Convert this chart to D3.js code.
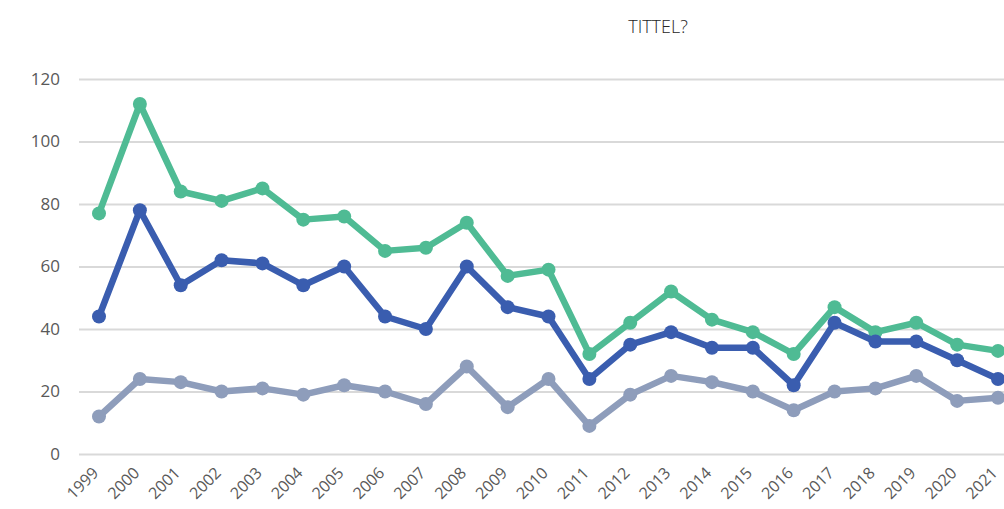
<!DOCTYPE html>
<html>
<head>
<meta charset="utf-8">
<script src="https://cdn.jsdelivr.net/npm/d3@7"></script>
<style>
  body { margin: 0; background: #fff; }
  svg { display: block; }
</style>
</head>
<body>
<div id="chart"></div>
<script>
// data
const years = ["1999","2000","2001","2002","2003","2004","2005","2006","2007","2008","2009",
               "2010","2011","2012","2013","2014","2015","2016","2017","2018","2019","2020","2021"];
const greenSeries = [77,112,84,81,85,75,76,65,66,74,57,59,32,42,52,43,39,32,47,39,42,35,33];
const blueSeries  = [44,78,54,62,61,54,60,44,40,60,47,44,24,35,39,34,34,22,42,36,36,30,24];
const greySeries  = [12,24,23,20,21,19,22,20,16,28,15,24,9,19,25,23,20,14,20,21,25,17,18];
const yTicks = [0,20,40,60,80,100,120];
const title = "TITTEL?";

const width = 1004, height = 509;
const margin = {top: 79, right: 6, bottom: 55, left: 79};

const svg = d3.select("#chart").append("svg")
    .attr("width", width)
    .attr("height", height);

// title
svg.append("text")
    .attr("x", 658)
    .attr("y", 33)
    .attr("text-anchor", "middle")
    .attr("style", "font-family: 'Open Sans'; font-size: 18px; font-weight: 300;")
    .attr("fill", "#262626")
    .text(title);

const y = d3.scaleLinear()
    .domain([0, 120])
    .range([height - margin.bottom, margin.top]);

const x = d3.scalePoint()
    .domain(years)
    .range([99, 998]);

//////////////
/// Grid   ///
//////////////

const yAxis = svg.append("g")
    .attr("transform", "translate(" + margin.left + ",0)")
    .call(d3.axisLeft(y).tickValues(yTicks).tickSize(-(width - margin.left)).tickPadding(19));
yAxis.select(".domain").remove();
yAxis.selectAll(".tick line")
    .attr("stroke", "#d9d9d9")
    .attr("stroke-width", 2);
yAxis.selectAll(".tick text")
    .attr("fill", "#595959")
    .attr("style", "font-family: 'Open Sans'; font-size: 17px;");

const xAxis = svg.append("g")
    .attr("transform", "translate(0," + y(0) + ")")
    .call(d3.axisBottom(x).tickSize(0).tickPadding(0));
xAxis.select(".domain").remove();
xAxis.selectAll(".tick text")
    .attr("fill", "#595959")
    .attr("style", "font-family: 'Open Sans'; font-size: 16px;")
    .attr("text-anchor", "end")
    .attr("dy", null)
    .attr("transform", "translate(0,20) rotate(-45)");

//////////////
/// Lines  ///
//////////////

const series = [
    {values: greySeries,  color: "#8e9dbb"},
    {values: greenSeries, color: "#4fbb94"},
    {values: blueSeries,  color: "#3a5daf"}
];

const line = d3.line()
    .x((d, i) => x(years[i]))
    .y(d => y(d));

series.forEach(s => {
    svg.append("path")
        .datum(s.values)
        .attr("fill", "none")
        .attr("stroke", s.color)
        .attr("stroke-width", 6.5)
        .attr("stroke-linejoin", "round")
        .attr("d", line);

    svg.append("g")
        .selectAll("circle")
        .data(s.values)
        .enter()
        .append("circle")
        .attr("cx", (d, i) => x(years[i]))
        .attr("cy", d => y(d))
        .attr("r", 7)
        .attr("fill", s.color);
});
</script>
</body>
</html>
